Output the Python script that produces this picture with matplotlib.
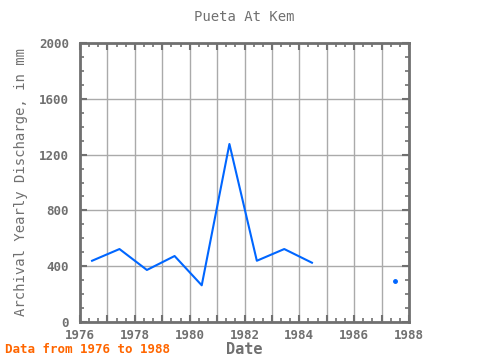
import numpy as np
import matplotlib.pyplot as plt
from matplotlib.ticker import MultipleLocator

# data
years = [1976.44, 1977.44, 1978.44, 1979.45, 1980.44, 1981.45, 1982.45, 1983.45, 1984.46, 1985.46, 1986.46, 1987.48]
discharge = [439, 523, 373, 473, 263, 1276, 439, 523, 425, np.nan, np.nan, 296]

x_ticks = list(range(1976, 1989, 2))
y_ticks = [0, 400, 800, 1200, 1600, 2000]

gray = '#707070'
blue = '#0066ff'

plt.rcParams['font.family'] = ['DejaVu Sans Mono']

fig = plt.figure(figsize=(4.8, 3.6), dpi=100)
ax = fig.add_axes([80/480, 38/360, 329/480, 279/360])

ax.plot(years, discharge, color=blue, linewidth=1.5)
# the lone point after the gap
ax.plot(years[-1], discharge[-1], 'o', color=blue, markersize=2.5)

ax.set_xlim(1976, 1988)
ax.set_ylim(0, 2000)

ax.xaxis.set_minor_locator(MultipleLocator(1/3))
ax.set_xticks(range(1976, 1989))
ax.set_xticklabels([str(y) if y in x_ticks else '' for y in range(1976, 1989)])
ax.set_yticks(y_ticks)
ax.yaxis.set_minor_locator(MultipleLocator(100))

ax.grid(True, which='major', color='#aaaaaa', linewidth=1)
ax.tick_params(which='both', direction='in', top=True, right=True, color=gray,
               labelcolor=gray, labelsize=9)
ax.tick_params(which='major', length=5, width=1.5)
ax.tick_params(which='minor', length=3, width=1.2)
ax.tick_params(axis='x', which='major', pad=5)
ax.tick_params(axis='y', which='major', pad=8)
for lab in ax.get_xticklabels() + ax.get_yticklabels():
    lab.set_fontweight('bold')
for s in ax.spines.values():
    s.set_color(gray)
    s.set_linewidth(2)

ax.set_title('Pueta At Kem', color=gray, fontsize=10, pad=16)
ax.set_xlabel('Date', color=gray, fontsize=11, fontweight='bold', labelpad=0)
ax.set_ylabel('Archival Yearly Discharge, in mm', color=gray, fontsize=10, labelpad=8)
fig.text(5/480, 4/360, 'Data from 1976 to 1988', color='#ff6600', fontsize=9,
         fontweight='bold', ha='left', va='bottom')

fig.savefig('out.png', dpi=100)
